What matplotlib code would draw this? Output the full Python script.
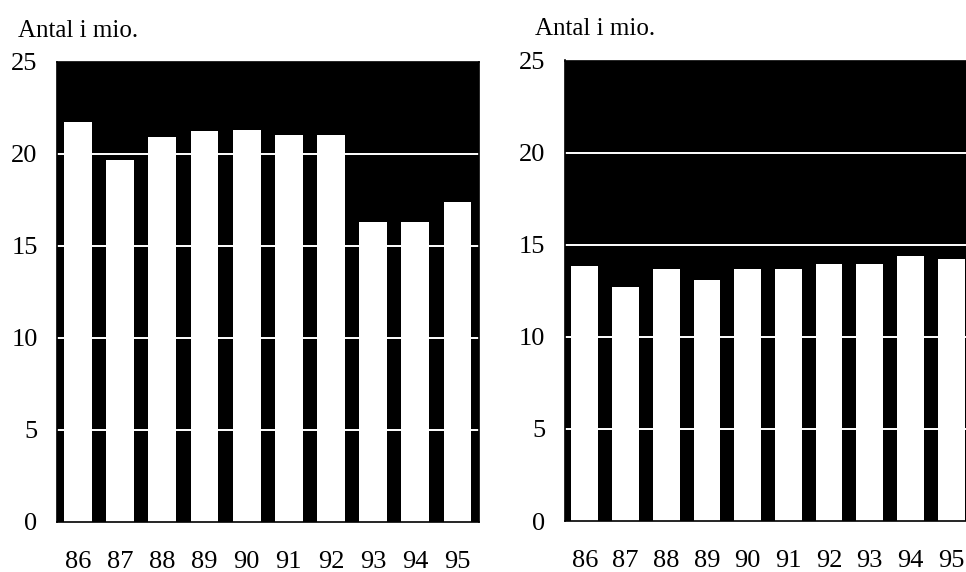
import numpy as np
import matplotlib
matplotlib.use('Agg')
import matplotlib.pyplot as plt

plt.rcParams['font.family'] = ['Liberation Serif', 'DejaVu Serif']

# ── DATA ───────────────────────────────────────────────────────────────────────
years = ['86', '87', '88', '89', '90', '91', '92', '93', '94', '95']
left_values = [21.75, 19.7, 20.9, 21.25, 21.3, 21.05, 21.05, 16.3, 16.3, 17.4]
right_values = [13.85, 12.7, 13.7, 13.1, 13.7, 13.7, 13.95, 13.95, 14.4, 14.25]
y_ticks = [0, 5, 10, 15, 20, 25]
y_label = 'Antal i mio.'

W, H = 966, 572
fig = plt.figure(figsize=(W / 100, H / 100), dpi=100)

# axes boxes in pixels: (left, top, right, bottom)
boxes = [(57, 62, 478.5, 522), (564.5, 60.5, 971.5, 521)]
title_pos = [(18, 37), (535, 35)]

for (l, t, r, b), (tx, ty), vals in zip(boxes, title_pos, [left_values, right_values]):
    ax = fig.add_axes([l / W, 1 - b / H, (r - l) / W, (b - t) / H])
    ax.set_facecolor('black')
    x = np.arange(len(years))
    ax.bar(x, vals, width=0.66, color='white', zorder=3)
    for yv in y_ticks[1:-1]:
        ax.axhline(yv, color='white', lw=1.4, zorder=2)
    ax.set_xlim(-0.5, len(years) - 0.5)
    ax.set_ylim(0, 25)
    ax.set_yticks(y_ticks)
    ax.set_xticks(x)
    ax.set_xticklabels(years)
    ax.tick_params(axis='y', length=0, pad=14, labelsize=19)
    ax.tick_params(axis='x', length=0, pad=21, labelsize=19)
    for s in ax.spines.values():
        s.set_color('black')
        s.set_linewidth(1.2)
        s.set_zorder(5)
    fig.text(tx / W, 1 - ty / H, y_label, fontsize=18, ha='left', va='baseline')

fig.savefig('out.png', dpi=100)
